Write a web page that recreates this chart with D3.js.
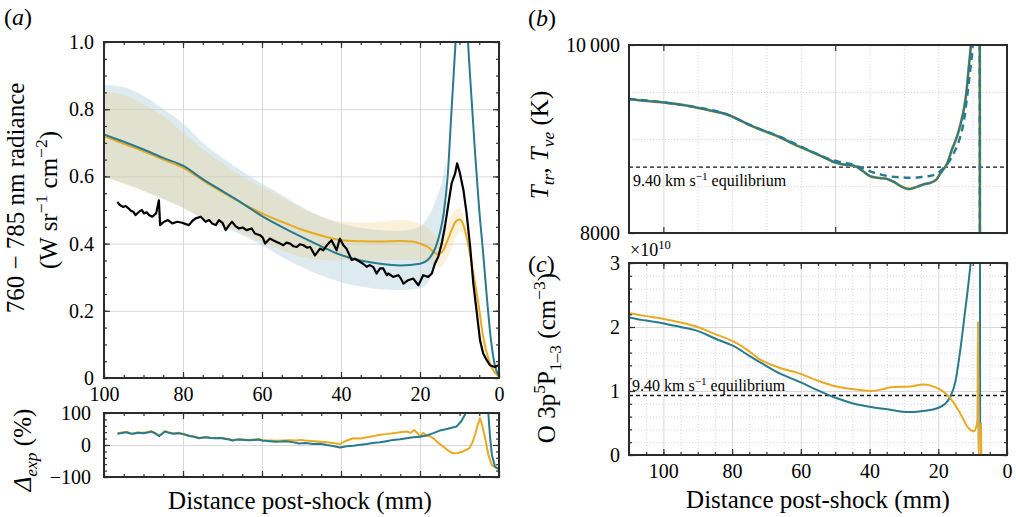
<!DOCTYPE html>
<html>
<head>
<meta charset="utf-8">
<script src="https://cdn.jsdelivr.net/npm/d3@7"></script>
<style>
  body { margin: 0; background: #fff; }
  svg, svg text { font-family: "Liberation Serif", "Times New Roman", Times, "DejaVu Serif", serif; }
  .ticks .domain, .grid .domain { display: none; }
  .gmaj line { stroke: #d9d9d9; stroke-width: 1; }
  .gmin line { stroke: #cfcfcf; stroke-width: 0.8; stroke-dasharray: 1.2 1.8; }
  .ticks line { stroke: #333; stroke-width: 1.2; }
  .ticks text { font-family: "Liberation Serif", "Times New Roman", Times, "DejaVu Serif", serif; font-size: 20px; fill: #000; }
</style>
</head>
<body>
<script>
// ---- data ----
// panel (a): 760-785 nm radiance vs distance (mm)
const expRadiance = [[96.6,0.524],[96.0,0.515],[95.1,0.509],[94.5,0.512],[93.8,0.505],[93.2,0.498],[92.6,0.495],[92.0,0.485],[91.1,0.495],[90.4,0.50],[89.9,0.49],[89.2,0.493],[88.6,0.485],[87.8,0.48],[86.8,0.49],[86.1,0.529],[85.8,0.455],[84.8,0.465],[83.8,0.47],[82.7,0.46],[81.5,0.465],[80.2,0.462],[79.3,0.458],[78.5,0.455],[77.6,0.468],[76.8,0.475],[75.5,0.48],[74.3,0.465],[73.4,0.47],[72.6,0.46],[71.7,0.455],[70.9,0.47],[70.0,0.462],[69.2,0.44],[68.3,0.455],[67.6,0.465],[66.7,0.452],[65.8,0.445],[64.9,0.448],[63.9,0.44],[62.6,0.445],[61.8,0.43],[60.5,0.425],[59.8,0.418],[59.2,0.40],[58.0,0.415],[57.2,0.41],[56.3,0.405],[55.4,0.40],[54.6,0.395],[53.8,0.403],[52.9,0.40],[52.0,0.392],[51.2,0.39],[50.4,0.398],[49.5,0.395],[48.6,0.388],[47.8,0.39],[46.6,0.365],[45.3,0.385],[44.5,0.38],[43.6,0.395],[42.4,0.41],[41.1,0.38],[40.3,0.415],[39.4,0.395],[38.6,0.385],[37.3,0.351],[36.5,0.355],[35.2,0.346],[34.4,0.34],[33.5,0.331],[32.7,0.336],[31.8,0.33],[31.0,0.311],[30.1,0.326],[29.3,0.326],[28.4,0.306],[28.0,0.311],[26.8,0.301],[25.5,0.306],[24.8,0.295],[24.2,0.281],[23.0,0.291],[21.7,0.296],[21.0,0.285],[20.4,0.276],[19.2,0.306],[17.9,0.301],[17.0,0.311],[16.2,0.341],[15.4,0.36],[14.5,0.40],[13.7,0.45],[12.8,0.519],[12.0,0.579],[11.1,0.609],[10.6,0.639],[9.9,0.61],[9.0,0.559],[8.2,0.49],[7.3,0.39],[6.5,0.281],[5.6,0.192],[4.8,0.112],[4.0,0.073],[3.1,0.053],[2.3,0.038],[1.6,0.035],[1.0,0.033],[0.2,0.038]];
const tealRadiance = [[100,0.725],[95,0.703],[90,0.68],[85,0.655],[80,0.632],[75,0.592],[70,0.556],[65,0.52],[60,0.482],[55,0.45],[50,0.42],[45,0.392],[40,0.366],[35,0.35],[30,0.34],[25,0.335],[20,0.34],[18,0.352],[16,0.39],[15,0.43],[14,0.49],[13,0.6],[12,0.8],[11,1.0],[10,1.25],[9.3,1.32],[8.6,1.22],[8,1.04],[7,0.84],[6,0.66],[5,0.5],[4,0.37],[3,0.23],[2,0.11],[1,0.035],[0,0.005]];
const yellowRadiance = [[100,0.72],[95,0.697],[90,0.675],[85,0.65],[80,0.626],[75,0.588],[70,0.553],[65,0.52],[60,0.49],[55,0.465],[50,0.442],[45,0.424],[40,0.41],[35,0.407],[30,0.406],[25,0.408],[22,0.406],[20,0.4],[18,0.39],[16.5,0.375],[15.4,0.368],[14.1,0.38],[13,0.41],[12,0.44],[11,0.465],[10,0.472],[9,0.455],[8.2,0.42],[7,0.345],[6.5,0.311],[5.2,0.22],[4,0.122],[3,0.07],[2,0.035],[1,0.015],[0,0.005]];
// uncertainty bands: [mm, low, high]
const tealBand = [[100,0.60,0.872],[95,0.58,0.865],[90,0.557,0.84],[85,0.533,0.80],[80,0.507,0.758],[75,0.475,0.70],[70,0.45,0.655],[65,0.425,0.615],[60,0.395,0.578],[55,0.36,0.545],[50,0.33,0.51],[45,0.305,0.48],[40,0.285,0.46],[35,0.272,0.447],[30,0.264,0.44],[25,0.262,0.438],[20,0.266,0.45],[18,0.285,0.48],[17,0.31,0.5],[16,0.35,0.53],[15,0.39,0.56],[14,0.45,0.61],[13.5,0.52,0.65]];
const yellowBand = [[100,0.598,0.852],[95,0.578,0.842],[90,0.556,0.815],[85,0.533,0.78],[80,0.507,0.73],[75,0.477,0.68],[70,0.455,0.64],[65,0.432,0.60],[60,0.405,0.568],[55,0.38,0.538],[50,0.36,0.505],[45,0.352,0.482],[40,0.35,0.465],[35,0.35,0.463],[30,0.35,0.465],[25,0.352,0.47],[20,0.35,0.46],[17,0.34,0.435],[15,0.33,0.41],[13,0.36,0.46],[11.5,0.40,0.495],[10,0.435,0.505],[9,0.43,0.48],[8,0.39,0.43]];
// residual Δexp (%)
const tealResidual = [[96.6,35],[95.9,37],[94.3,40],[93.4,36],[92.6,35],[91.5,38],[90,37],[89,39],[88,42],[87,36],[86,28],[85.2,36],[84.6,42],[83.5,38],[82.5,35],[81.2,37],[80,34],[79.2,31],[78.4,28],[77.2,26],[75.9,21],[75,23],[74.2,24],[73,22],[71.7,21],[70.5,22],[69.2,19],[68.3,17],[67.5,14],[66.6,16],[65.8,17],[64.5,16],[63.3,15],[62,16],[60.8,17],[60,14],[59.1,13],[58,12],[56.6,10.5],[55.3,11],[54,12],[52.3,9],[50.6,5],[49,6],[47,3],[45.3,4],[43.6,0],[42,-3],[40.3,-8],[39.5,-6],[38.6,-4],[36.9,-2],[35,1],[33.5,3],[32,6],[30.1,8.6],[28.5,12],[26.8,16],[25,18],[23.4,21],[21.7,24],[20,26],[18.3,30],[16.6,37],[15,45],[13.2,50],[12,54],[10.7,58],[9.5,75],[8.6,95],[8.2,110],[7,180],[3.2,180],[2.7,100],[2.3,30],[1.8,-31],[1,-68],[0.2,-75]];
const yellowResidual = [[96.6,36],[95.9,38],[94.3,41],[93.4,37],[92.6,36],[91.5,39],[90,38],[89,40],[88,43],[87,37],[86,29],[85.2,37],[84.6,43],[83.5,39],[82.5,36],[81.2,38],[80,35],[79.2,32],[78.4,29],[77.2,27],[75.9,22],[75,24],[74.2,25],[73,23],[71.7,22],[70.5,23],[69.2,20],[68.3,18],[67.5,15],[66.6,17],[65.8,18],[64.5,17],[63.3,16],[62,17],[60.8,18],[60,15],[58,14],[56.6,13],[55,14],[53,15],[51,14],[50.4,16],[49,14],[47,12],[45,10],[43.6,8.6],[42,6],[40.3,3],[39.5,8],[38.5,14],[36.9,21],[35,20],[33.5,24],[32,27],[30.1,32],[28.5,34],[26.8,37],[25,40],[23.4,42],[22.3,38],[21.5,47],[20.5,35],[20,26],[19.2,38],[18.4,30],[17.5,28],[16.6,21],[15.5,8],[14.1,-5],[12.8,-18],[11.6,-26],[10.5,-25],[9.2,-21],[7.5,-10],[6.7,9],[6,35],[5.4,63],[4.8,84],[4.3,63],[3.5,21],[2.7,-31],[1.8,-63],[0.4,-74]];
// panel (b): temperatures (K)
const tempTr = [[110,9425],[105,9405],[100,9390],[95,9365],[91.5,9344],[86,9300],[81,9255],[78,9205],[75,9150],[71,9090],[66.5,9025],[62,8945],[57,8865],[53,8800],[50,8750],[47,8725],[44.4,8715],[42,8660],[39.6,8600],[37,8585],[34.8,8574],[33,8545],[31,8500],[28.6,8468],[26,8495],[24,8520],[22.2,8535],[20.5,8570],[19.3,8640],[17.4,8741],[16,8890],[14.5,9030],[13.5,9160],[12.6,9308],[11.8,9500],[11.2,9734],[10.5,10000],[9.8,10400],[9,11200],[8.4,12500],[8.0,13500],[7.75,300],[0,300]];
const tempVe = [[110,9425],[100,9390],[91.5,9344],[81,9255],[75,9152],[66.5,9030],[57,8870],[52,8790],[49,8760],[47,8745],[44.4,8723],[42,8690],[39.6,8652],[37,8625],[34.8,8606],[31,8592],[28.5,8588],[26,8590],[24.2,8599],[22,8610],[20.3,8635],[18.5,8690],[17.4,8730],[15.5,8848],[13.6,9024],[12.5,9200],[11.6,9450],[10.8,9700],[10.0,10000],[9.3,10600],[8.5,12000],[8.0,13500],[7.75,300],[0,300]];
const tempEquilibrium = 8700;
// panel (c): O 3p5P number density (x1e10 cm^-3)
const tealO = [[110,2.15],[105,2.10],[100.2,2.06],[95,2.0],[90.1,1.94],[85,1.82],[79.5,1.70],[75,1.55],[71.3,1.43],[66,1.27],[60.7,1.15],[55,1.01],[49.7,0.89],[45,0.81],[39.6,0.75],[34.4,0.71],[31,0.68],[28,0.67],[24,0.69],[20.3,0.73],[18,0.80],[16.5,0.91],[15,1.15],[13.6,1.64],[12.3,2.2],[11.2,2.69],[10.5,3.05],[9.5,3.8],[8.5,4.6],[7.9,5],[7.8,0],[0,0]];
const yellowO = [[110,2.22],[105,2.17],[100.2,2.13],[95,2.07],[90.1,2.0],[85,1.89],[79.5,1.77],[75,1.62],[72.4,1.51],[66,1.36],[60.7,1.28],[55,1.16],[49.7,1.07],[45,1.03],[39.6,1.0],[36,1.03],[33.8,1.06],[28,1.07],[24.6,1.10],[22,1.08],[19.4,1.02],[16.5,0.89],[13.6,0.65],[11.2,0.42],[9.7,0.37],[8.9,0.45],[8.6,0.55],[8.45,2.09],[8.35,0],[7.7,0],[7.55,0.5],[7.45,0],[0,0]];
const oEquilibrium = 0.93;

const TEAL = "#287a8e", YELLOW = "#eaa923";
const SERIF = '"Liberation Serif", "Times New Roman", Times, "DejaVu Serif", serif';
const LABEL = 25;

const svg = d3.select("body").append("svg").attr("width", 1016).attr("height", 517)
  .attr("font-family", SERIF);

// ---- scales ----
const xA = d3.scaleLinear().domain([100, 0]).range([104, 499]);
const yA = d3.scaleLinear().domain([0, 1]).range([378, 42]);
const yR = d3.scaleLinear().domain([-100, 100]).range([477, 413]);
const xB = d3.scaleLinear().domain([110, 0]).range([629, 1007]);
const yB = d3.scaleLinear().domain([8000, 10000]).range([233, 45]);
const yC = d3.scaleLinear().domain([0, 3]).range([455, 263]);

const range = (a, b, s) => d3.range(a, b + s / 2, s);

function grid(x, y, xs, ys, cls) {
  const [x0, x1] = x.range(), [yb, yt] = y.range();
  if (xs) svg.append("g").attr("class", "grid " + cls).attr("transform", `translate(0,${yb})`)
    .call(d3.axisBottom(x).tickValues(xs).tickSize(-(yb - yt)).tickFormat(""));
  if (ys) svg.append("g").attr("class", "grid " + cls).attr("transform", `translate(${x0},0)`)
    .call(d3.axisLeft(y).tickValues(ys).tickSize(-(x1 - x0)).tickFormat(""));
}

function ticks(x, y, o) {
  const [x0, x1] = x.range(), [yb, yt] = y.range();
  const add = (axis, tr) => svg.append("g").attr("class", "ticks").attr("transform", tr).call(axis)
    .attr("font-family", SERIF).attr("font-size", 20);
  add(d3.axisBottom(x).tickValues(o.xMaj).tickSize(-6).tickPadding(9).tickFormat(o.xFmt || (() => "")), `translate(0,${yb})`);
  add(d3.axisTop(x).tickValues(o.xMaj).tickSize(-6).tickFormat(""), `translate(0,${yt})`);
  if (o.xMin) {
    add(d3.axisBottom(x).tickValues(o.xMin).tickSize(-3).tickFormat(""), `translate(0,${yb})`);
    add(d3.axisTop(x).tickValues(o.xMin).tickSize(-3).tickFormat(""), `translate(0,${yt})`);
  }
  add(d3.axisLeft(y).tickValues(o.yMaj).tickSize(-6).tickPadding(o.yPad || 10).tickFormat(o.yFmt || (() => "")), `translate(${x0},0)`);
  add(d3.axisRight(y).tickValues(o.yMaj).tickSize(-6).tickFormat(""), `translate(${x1},0)`);
  if (o.yMin) {
    add(d3.axisLeft(y).tickValues(o.yMin).tickSize(-3).tickFormat(""), `translate(${x0},0)`);
    add(d3.axisRight(y).tickValues(o.yMin).tickSize(-3).tickFormat(""), `translate(${x1},0)`);
  }
  svg.append("rect").attr("x", x0).attr("y", yt).attr("width", x1 - x0).attr("height", yb - yt)
    .attr("fill", "none").attr("stroke", "#2b2b2b").attr("stroke-width", 2);
}

let clipN = 0;
function clipFor(x, y) {
  const id = "clip" + (clipN++);
  const [x0, x1] = x.range(), [yb, yt] = y.range();
  svg.append("clipPath").attr("id", id).append("rect")
    .attr("x", x0).attr("y", yt).attr("width", x1 - x0).attr("height", yb - yt);
  return svg.append("g").attr("clip-path", `url(#${id})`);
}

function drawLine(g, data, x, y, color, width, dash, curve) {
  g.append("path").datum(data)
    .attr("d", d3.line().x(d => x(d[0])).y(d => y(d[1])).curve(curve || d3.curveLinear))
    .attr("fill", "none").attr("stroke", color).attr("stroke-width", width)
    .attr("stroke-dasharray", dash || null).attr("stroke-linejoin", "round");
}

function rich(el, parts, fs) {
  let shift = 0;
  parts.forEach(([t, kind]) => {
    const ts = el.append("tspan").text(t);
    let target = 0, size = fs;
    if (kind.includes("sup")) { target = -0.4 * fs; size = 0.7 * fs; }
    if (kind.includes("sub")) { target = 0.25 * fs; size = 0.7 * fs; }
    if (kind.includes("i")) ts.attr("font-style", "italic");
    ts.attr("dy", target - shift).attr("font-size", size);
    shift = target;
  });
}

function label(x, y, rot, parts, fs, anchor) {
  const t = svg.append("text")
    .attr("transform", `translate(${x},${y})` + (rot ? ` rotate(${rot})` : ""))
    .attr("text-anchor", anchor || "middle").attr("fill", "#000")
    .attr("font-family", SERIF).attr("font-size", fs);
  rich(t, parts, fs);
  return t;
}

const fmtMinus = d => (d < 0 ? "\u2212" + Math.abs(d) : String(d));

// ================= panel (a) =================
grid(xA, yA, [80, 60, 40, 20], [0.2, 0.4, 0.6, 0.8], "gmaj");
const gA = clipFor(xA, yA);
gA.append("path").datum(tealBand)
  .attr("d", d3.area().x(d => xA(d[0])).y0(d => yA(d[1])).y1(d => yA(d[2])).curve(d3.curveMonotoneX))
  .attr("fill", "rgb(180,208,222)").attr("fill-opacity", 0.45);
gA.append("path").datum(yellowBand)
  .attr("d", d3.area().x(d => xA(d[0])).y0(d => yA(d[1])).y1(d => yA(d[2])).curve(d3.curveMonotoneX))
  .attr("fill", "rgb(240,200,110)").attr("fill-opacity", 0.25);
drawLine(gA, yellowRadiance, xA, yA, YELLOW, 2, null, d3.curveMonotoneX);
drawLine(gA, tealRadiance, xA, yA, TEAL, 2, null, d3.curveMonotoneX);
drawLine(gA, expRadiance, xA, yA, "#000", 2.2);
ticks(xA, yA, {
  xMaj: [100, 80, 60, 40, 20, 0], xMin: range(0, 100, 5), xFmt: d => d,
  yMaj: [0, 0.2, 0.4, 0.6, 0.8, 1.0], yMin: range(0, 1, 0.05),
  yFmt: d => (d === 0 ? "0" : d3.format(".1f")(d))
});

// residual
grid(xA, yR, [80, 60, 40, 20], [0], "gmaj");
const gR = clipFor(xA, yR);
drawLine(gR, yellowResidual, xA, yR, YELLOW, 2);
drawLine(gR, tealResidual, xA, yR, TEAL, 2);
ticks(xA, yR, {
  xMaj: [100, 80, 60, 40, 20, 0], xMin: range(0, 100, 5),
  yMaj: [-100, 0, 100], yMin: range(-100, 100, 20), yFmt: fmtMinus, yPad: 13
});

label(24, 198, -90, [["760 \u2212 785 nm radiance", ""]], LABEL);
label(57, 200, -90, [["(W sr", ""], ["\u22121", "sup"], [" cm", ""], ["\u22122", "sup"], [")", ""]], LABEL);
label(31, 450, -90, [["\u0394", "i"], ["exp", "i sub"], [" (%)", ""]], LABEL);
label(300, 509, 0, [["Distance post-shock (mm)", ""]], LABEL);
label(4, 25, 0, [["(", ""], ["a", "i"], [")", ""]], 24, "start");

// ================= panel (b) =================
grid(xB, yB, range(10, 110, 10).filter(d => d % 50 !== 0), [8500, 9000, 9500], "gmin");
grid(xB, yB, [100, 50], null, "gmaj");
const gB = clipFor(xB, yB);
gB.append("line").attr("x1", xB(110)).attr("x2", xB(0))
  .attr("y1", yB(tempEquilibrium)).attr("y2", yB(tempEquilibrium))
  .attr("stroke", "#111").attr("stroke-width", 1.3).attr("stroke-dasharray", "4 3");
drawLine(gB, tempTr, xB, yB, YELLOW, 2.8, null, d3.curveMonotoneX);
drawLine(gB, tempTr, xB, yB, TEAL, 2.1, null, d3.curveMonotoneX);
drawLine(gB, tempVe, xB, yB, TEAL, 2.4, "7 5", d3.curveMonotoneX);
ticks(xB, yB, {
  xMaj: [100, 50],
  yMaj: [8000, 10000], yFmt: d => (d === 10000 ? "10\u2009000" : String(d)), yPad: 9
});
label(633, 186, 0, [["9.40 km s", ""], ["\u22121", "sup"], [" equilibrium", ""]], 16, "start");
label(548, 145, -90, [["T", "i"], ["tr", "i sub"], [", ", ""], ["T", "i"], ["ve", "i sub"], [" (K)", ""]], LABEL);
label(528, 26, 0, [["(", ""], ["b", "i"], [")", ""]], 24, "start");

// ================= panel (c) =================
grid(xB, yC, range(5, 110, 5).filter(d => d % 20 !== 0), range(0.2, 2.8, 0.2).filter(d => Math.abs(d - Math.round(d)) > 0.01), "gmin");
grid(xB, yC, [100, 80, 60, 40, 20], [1, 2], "gmaj");
const gC = clipFor(xB, yC);
gC.append("line").attr("x1", xB(110)).attr("x2", xB(0))
  .attr("y1", yC(oEquilibrium)).attr("y2", yC(oEquilibrium))
  .attr("stroke", "#111").attr("stroke-width", 1.3).attr("stroke-dasharray", "4 3");
drawLine(gC, tealO, xB, yC, TEAL, 2, null, d3.curveMonotoneX);
drawLine(gC, yellowO, xB, yC, YELLOW, 2, null, d3.curveMonotoneX);
ticks(xB, yC, {
  xMaj: [100, 80, 60, 40, 20, 0], xMin: range(0, 110, 5), xFmt: d => d,
  yMaj: [0, 1, 2, 3], yMin: range(0, 3, 0.2), yFmt: d => d, yPad: 9
});
label(632, 391, 0, [["9.40 km s", ""], ["\u22121", "sup"], [" equilibrium", ""]], 16, "start");
label(630, 256, 0, [["\u00d710", ""], ["10", "sup"]], 18, "start");
label(555, 358, -90, [["O 3p", ""], ["5", "sup"], ["P", ""], ["1\u20133", "sub"], [" (cm", ""], ["\u22123", "sup"], [")", ""]], LABEL);
label(528, 272, 0, [["(", ""], ["c", "i"], [")", ""]], 24, "start");
label(818, 508, 0, [["Distance post-shock (mm)", ""]], LABEL);
</script>
</body>
</html>
